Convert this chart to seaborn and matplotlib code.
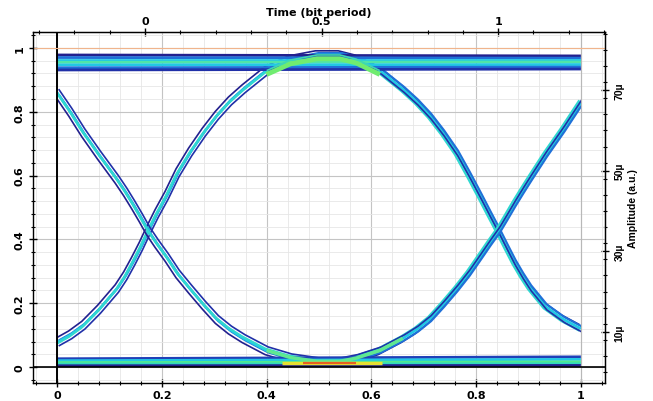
import numpy as np
import matplotlib
matplotlib.use("Agg")
import matplotlib.pyplot as plt
import seaborn as sns
from matplotlib.ticker import MultipleLocator, FixedLocator
from matplotlib.patches import Rectangle

# eye diagram traces (time in axis units, amplitude normalised)
time = [0, 0.025, 0.05, 0.08, 0.114, 0.13, 0.145, 0.16, 0.174, 0.19, 0.209, 0.23, 0.254, 0.28, 0.305,
        0.33, 0.356, 0.40, 0.445, 0.496, 0.54, 0.571, 0.616, 0.66, 0.686, 0.711, 0.736, 0.762, 0.785,
        0.807, 0.825, 0.842, 0.857, 0.872, 0.887, 0.902, 0.932, 0.966, 1.0]
upper_eye = [0.077, 0.10, 0.13, 0.18, 0.245, 0.285, 0.33, 0.378, 0.427, 0.48, 0.537, 0.608, 0.673,
             0.735, 0.788, 0.833, 0.871, 0.929, 0.962, 0.978, 0.978, 0.965, 0.929, 0.871, 0.832, 0.788,
             0.735, 0.673, 0.605, 0.537, 0.48, 0.427, 0.378, 0.33, 0.288, 0.25, 0.19, 0.15, 0.12]
lower_eye = [0.86, 0.80, 0.735, 0.665, 0.589, 0.55, 0.51, 0.468, 0.427, 0.388, 0.345, 0.293, 0.245,
             0.195, 0.15, 0.117, 0.09, 0.052, 0.03, 0.018, 0.018, 0.028, 0.052, 0.09, 0.117, 0.15,
             0.195, 0.245, 0.293, 0.345, 0.388, 0.427, 0.468, 0.51, 0.55, 0.589, 0.665, 0.745, 0.83]
rail_x = [0, 1]
high_rails = [(0.978, 0.975), (0.970, 0.968), (0.962, 0.962), (0.955, 0.956), (0.947, 0.948),
              (0.938, 0.940), (0.931, 0.934)]
low_rails = [(0.026, 0.032), (0.020, 0.024), (0.014, 0.016), (0.009, 0.010), (0.004, 0.005)]
band_dy = [0.013, 0.006, 0.0, -0.006, -0.011]
band_dt = [-0.003, 0.003, 0.0, -0.003, 0.003]
peak_x = [0.38, 0.64]
hot_x = [0.43, 0.62]
red_x = [0.47, 0.57]
hot_y = [0.013, 0.013]

bottom_ticks = [0, 0.2, 0.4, 0.6, 0.8, 1]
bit_ticks = [0, 0.5, 1]
amp_ticks = [10, 30, 50, 70]
amp_labels = ['10µ', '30µ', '50µ', '70µ']

bit_t0, bit_span = 0.168, 0.674
amp_off, amp_scale = 0.016, 79.2

sns.set_style('white')
plt.rcParams['font.family'] = ['Liberation Sans', 'DejaVu Sans']
plt.rcParams['font.weight'] = 'bold'
plt.rcParams['font.size'] = 7.5
for key in ['text.color', 'axes.labelcolor', 'xtick.color', 'ytick.color']:
    plt.rcParams[key] = 'black'
wide = dict(fontfamily='DejaVu Sans', fontweight='bold', fontsize=8)

fig = plt.figure(figsize=(6.53, 4.02), dpi=100)
ax = fig.add_axes([33 / 653, 18 / 402, 572 / 653, 351 / 402])
ax.set_xlim(-0.046, 1.046)
ax.set_ylim(-0.05, 1.05)

# grid
ax.xaxis.set_major_locator(FixedLocator(bottom_ticks))
ax.xaxis.set_minor_locator(MultipleLocator(0.04))
ax.yaxis.set_major_locator(FixedLocator(bottom_ticks))
ax.yaxis.set_minor_locator(MultipleLocator(0.04))
ax.grid(which='major', color='#c4c4c4', lw=0.8)
ax.grid(which='minor', color='#e6e6e6', lw=0.6)
ax.set_axisbelow(True)

clip = Rectangle((0, -0.05), 1, 1.1, transform=ax.transData)

t = np.array(time)
band_cols = ['#22208e', '#1f70d8', '#22c8e4', '#30d8d0', '#2030a8']
band_lw = [1.2, 1.6, 2.0, 1.6, 1.2]
for curve, sign in [(upper_eye, 1), (lower_eye, -1)]:
    c = np.array(curve)
    for dy, dt, col, lw in zip(band_dy, band_dt, band_cols, band_lw):
        sns.lineplot(x=t + dt, y=c + sign * dy, ax=ax, color=col, lw=lw, sort=False, legend=False)

rail_cols = ['#22208e', '#1f70d8', '#22c8e4', '#50e4a8', '#22c8e4', '#1f70d8', '#2030a8']
for (a, b), col in zip(high_rails, rail_cols):
    sns.lineplot(x=rail_x, y=[a, b], ax=ax, color=col, lw=2.0, legend=False)
for (a, b), col in zip(low_rails, ['#2040b8', '#22c8e4', '#50e890', '#30d8c0', '#22208e']):
    sns.lineplot(x=rail_x, y=[a, b], ax=ax, color=col, lw=2.0, legend=False)

# dense regions near the peak and the floor
sel = (t >= peak_x[0]) & (t <= peak_x[1])
sns.lineplot(x=t[sel], y=np.array(upper_eye)[sel] - 0.012, ax=ax, color='#70ec70', lw=3.5, legend=False)
sns.lineplot(x=t[sel], y=np.array(upper_eye)[sel], ax=ax, color='#40d8b0', lw=1.2, legend=False)
sel = (t >= hot_x[0] - 0.06) & (t <= hot_x[1] + 0.06)
sns.lineplot(x=t[sel], y=np.array(lower_eye)[sel], ax=ax, color='#60e890', lw=2.5, legend=False)
sns.lineplot(x=hot_x, y=hot_y, ax=ax, color='#e8e030', lw=2.5, legend=False)
sns.lineplot(x=red_x, y=hot_y, ax=ax, color='#e86020', lw=1.6, legend=False)

for ln in ax.lines:
    ln.set_clip_path(clip)
    ln.set_solid_capstyle('butt')
    ln.set_solid_joinstyle('round')

ax.axvline(0, color='black', lw=1.4)
ax.axvline(1, color='#b8b8b8', lw=0.8)
ax.axhline(0, color='black', lw=1.2)
ax.axhline(1, color='#f0b48c', lw=0.8)

for s in ax.spines.values():
    s.set_color('black')
    s.set_linewidth(1.0)

ax.set_xticklabels(['0', '0.2', '0.4', '0.6', '0.8', '1'], **wide)
ax.set_yticklabels(['0', '0.2', '0.4', '0.6', '0.8', '1'], rotation=90, va='center', **wide)
ax.tick_params(which='major', direction='inout', length=6, width=1, color='black', pad=3)
ax.tick_params(axis='x', which='major', pad=2)
ax.tick_params(which='minor', direction='inout', length=3, width=0.8, color='black')
ax.tick_params(axis='both', bottom=True, left=True, top=False, right=False, which='both')

top = ax.secondary_xaxis('top', functions=(lambda x: (x - bit_t0) / bit_span,
                                           lambda b: bit_t0 + b * bit_span))
top.xaxis.set_major_locator(FixedLocator(bit_ticks))
top.xaxis.set_minor_locator(MultipleLocator(0.1))
top.set_xticklabels(['0', '0.5', '1'], **wide)
top.tick_params(which='major', direction='inout', length=6, width=1, pad=1)
top.tick_params(which='minor', direction='inout', length=3, width=0.8)
top.set_xlabel('Time (bit period)', labelpad=1, **wide)

right = ax.secondary_yaxis('right', functions=(lambda y: (y + amp_off) * amp_scale,
                                              lambda a: a / amp_scale - amp_off))
right.yaxis.set_major_locator(FixedLocator(amp_ticks))
right.yaxis.set_minor_locator(MultipleLocator(4))
right.set_yticklabels(amp_labels, rotation=90, va='center')
right.tick_params(which='major', direction='inout', length=6, width=1, pad=4)
right.tick_params(which='minor', direction='inout', length=3, width=0.8)
right.set_ylabel('Amplitude (a.u.)', fontweight='bold', labelpad=2)

fig.savefig('out.png', dpi=100, facecolor='white')
